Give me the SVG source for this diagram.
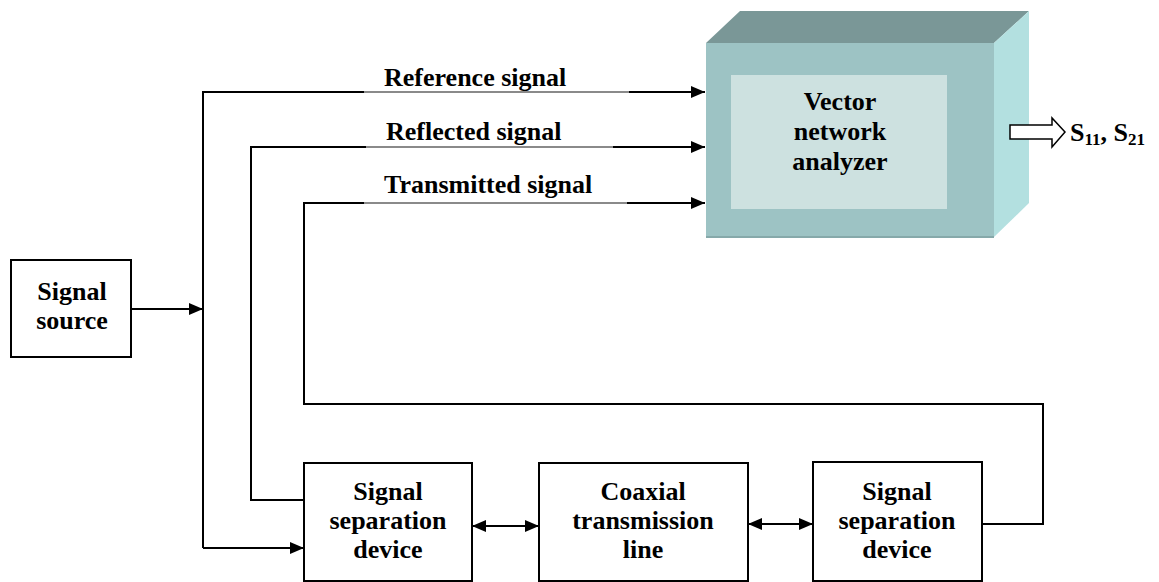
<svg xmlns="http://www.w3.org/2000/svg" width="1159" height="582" viewBox="0 0 1159 582">
  <style>
    .lbl { font-family: "Liberation Serif", "Times New Roman", serif; font-weight: bold; font-size: 26px; fill: #000; }
    .mid { text-anchor: middle; }
    .box { fill: #fff; stroke: #000; stroke-width: 2; }
    .wire { fill: none; stroke: #000; stroke-width: 2; }
    .dim { stroke: #8a8a8a; stroke-width: 2; }
  </style>
  <defs>
    <marker id="arr" viewBox="0 0 14 12" refX="14" refY="6" markerWidth="14" markerHeight="12" markerUnits="userSpaceOnUse" orient="auto-start-reverse">
      <path d="M0,0 L14,6 L0,12 Z" fill="#000"/>
    </marker>
  </defs>

  <rect width="1159" height="582" fill="#fff"/>

  <!-- connectors -->
  <g id="connectors">
    <!-- source to the splitter junction -->
    <line class="wire" x1="131" y1="309" x2="203" y2="309" marker-end="url(#arr)"/>
    <!-- reference path -->
    <path class="wire" d="M203,548 L203,92 L705,92" marker-end="url(#arr)"/>
    <line class="dim" x1="364" y1="92" x2="629" y2="92"/>
    <path class="wire" d="M203,548 L304,548" marker-end="url(#arr)"/>
    <!-- reflected path -->
    <path class="wire" d="M304,500 L251,500 L251,147 L705,147" marker-end="url(#arr)"/>
    <line class="dim" x1="366" y1="147" x2="613" y2="147"/>
    <!-- transmitted path -->
    <path class="wire" d="M982,524 L1043,524 L1043,404 L304,404 L304,203 L705,203" marker-end="url(#arr)"/>
    <line class="dim" x1="364" y1="203" x2="627" y2="203"/>
    <!-- bidirectional links -->
    <line class="wire" x1="472" y1="526" x2="539" y2="526" marker-start="url(#arr)" marker-end="url(#arr)"/>
    <line class="wire" x1="748" y1="524" x2="813" y2="524" marker-start="url(#arr)" marker-end="url(#arr)"/>
  </g>

  <!-- path labels -->
  <text class="lbl" x="384" y="86">Reference signal</text>
  <text class="lbl" x="386" y="140">Reflected signal</text>
  <text class="lbl" x="384" y="193">Transmitted signal</text>

  <g id="signal-source">
    <rect class="box" x="11" y="260" width="120" height="97"/>
    <text class="lbl mid" x="72" y="300">Signal</text>
    <text class="lbl mid" x="72" y="329">source</text>
  </g>

  <g id="vna">
    <polygon points="706,43 740,11 1029,11 994,43" fill="#7a9797"/>
    <polygon points="994,43 1029,11 1029,203 994,237" fill="#b3e0e0"/>
    <rect x="706" y="43" width="288" height="194" fill="#9dc3c4"/>
    <line x1="706" y1="237" x2="994" y2="237" stroke="#86a9aa" stroke-width="2"/>
    <rect x="731" y="75" width="216" height="134" fill="#cde1e0"/>
    <text class="lbl mid" x="840" y="110">Vector</text>
    <text class="lbl mid" x="840" y="140">network</text>
    <text class="lbl mid" x="840" y="170">analyzer</text>
  </g>

  <g id="s-params">
    <!-- hollow output arrow -->
    <path d="M1010,125 L1052,125 L1052,118 L1065,132 L1052,147 L1052,139 L1010,139 Z" fill="#fff" stroke="#000" stroke-width="1.5"/>
    <text class="lbl" x="1070" y="141">S<tspan font-size="17" dy="4">11</tspan><tspan dy="-4">, S</tspan><tspan font-size="17" dy="4">21</tspan></text>
  </g>

  <g id="separator-1">
    <rect class="box" x="304" y="463" width="168" height="118"/>
    <text class="lbl mid" x="388" y="500">Signal</text>
    <text class="lbl mid" x="388" y="529">separation</text>
    <text class="lbl mid" x="388" y="558">device</text>
  </g>

  <g id="coax-line">
    <rect class="box" x="539" y="463" width="209" height="118"/>
    <text class="lbl mid" x="643" y="500">Coaxial</text>
    <text class="lbl mid" x="643" y="529">transmission</text>
    <text class="lbl mid" x="643" y="558">line</text>
  </g>

  <g id="separator-2">
    <rect class="box" x="813" y="462" width="169" height="119"/>
    <text class="lbl mid" x="897" y="500">Signal</text>
    <text class="lbl mid" x="897" y="529">separation</text>
    <text class="lbl mid" x="897" y="558">device</text>
  </g>
</svg>
